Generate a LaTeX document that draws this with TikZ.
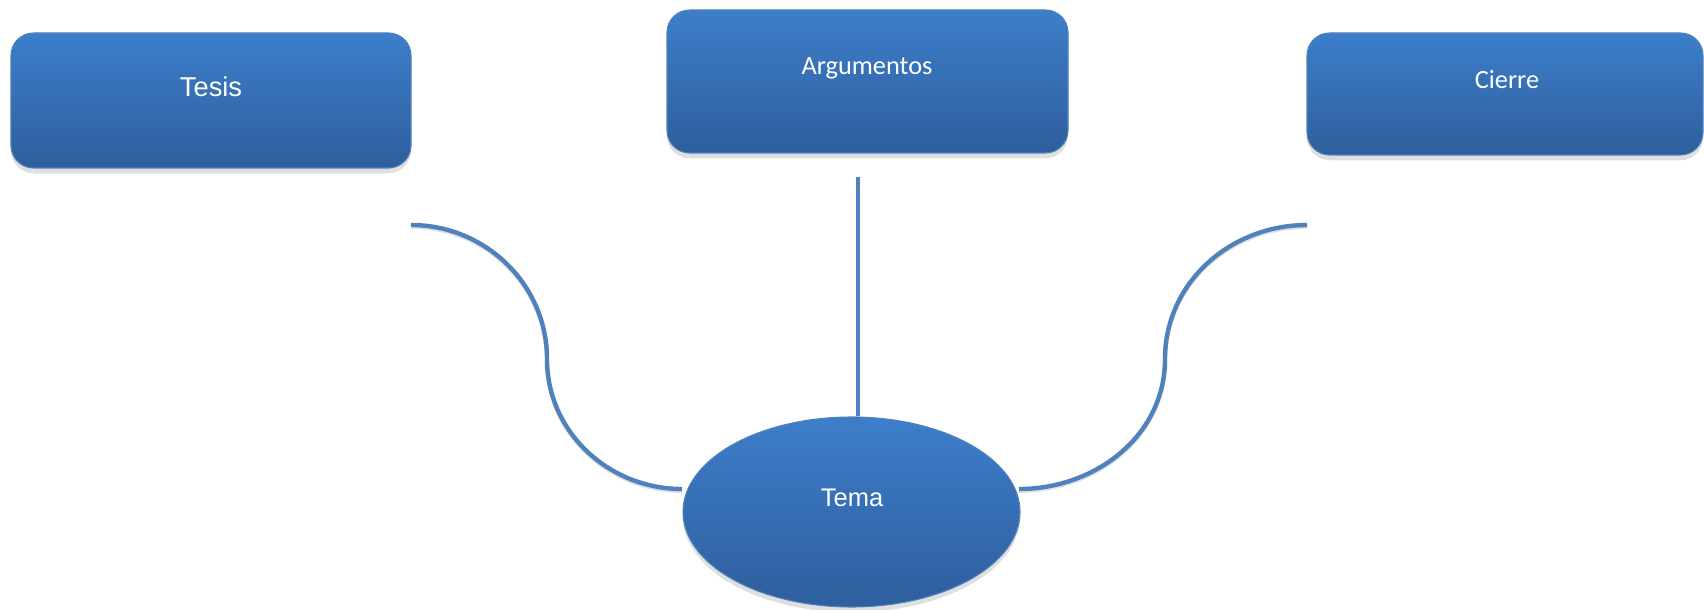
\documentclass[tikz,border=0pt]{standalone}
\usepackage{fontspec}
\usepackage{tikz}
\usetikzlibrary{positioning, shapes, shadows, calc}
\newfontfamily\arialfont{Liberation Sans}
\newfontfamily\calibrifont{Carlito}
\definecolor{Box-top}{RGB}{61,126,202}
\definecolor{Box-bot}{RGB}{46,94,157}
\definecolor{Box-line}{RGB}{79,129,189}

\begin{document}
\begin{tikzpicture}[x=0.02cm, y=0.02cm]
      \tikzset{ box/.style ={draw=Box-line, line width=0.6pt, rounded corners=0.45cm, top color=Box-top, bottom color=Box-bot, drop shadow={opacity=0.25, shadow xshift=0pt, shadow yshift=-3pt}} }
      \tikzset{ oval/.style={draw=Box-line, line width=0.6pt, ellipse, top color=Box-top, bottom color=Box-bot, drop shadow={opacity=0.25, shadow xshift=0pt, shadow yshift=-3pt}} }
      \tikzset{ ttxt/.style={text=white, font=\arialfont\fontsize{15.5}{18}\selectfont} }
      \tikzset{ ctxt/.style={text=white, font=\calibrifont\fontsize{15}{18}\selectfont} }
      \tikzset{ link/.style={draw=Box-line, line width=2.5pt, preaction={draw=black, opacity=0.12, line width=2.5pt, transform canvas={yshift=-1pt}}} }

      \node[box, minimum width=0.02*400cm, minimum height=0.02*135cm] (b_tesis) at ( 211.0, 508.5) {};
      \node[box, minimum width=0.02*401cm, minimum height=0.02*143cm] (b_arg)   at ( 867.5, 527.5) {};
      \node[box, minimum width=0.02*396cm, minimum height=0.02*122cm] (b_cierre) at (1505.0, 515.0) {};

      \node[ttxt] (t_tesis)  at ( 211, 522) {Tesis};
      \node[ctxt] (t_arg)    at ( 867, 541) {Argumentos};
      \node[ctxt] (t_cierre) at (1507, 529) {Cierre};

      \node[oval, minimum width=0.02*337cm, minimum height=0.02*190cm] (b_tema) at ( 851.5, 97.0) {};
      \node[ttxt, font=\arialfont\fontsize{14.5}{17}\selectfont] (t_tema) at ( 852, 111) {Tema};

      % free ends of the connectors
      \coordinate (c_left)  at ( 411, 384);
      \coordinate (m_left)  at ( 547, 250);
      \coordinate (e_left)  at ( 682, 120);
      \coordinate (c_right) at (1307, 384);
      \coordinate (m_right) at (1165, 250);
      \coordinate (e_right) at (1019, 120);
      \coordinate (c_top)   at ( 858, 432);

      \draw[link] (c_top) -- (c_top |- b_tema.north);
      \draw[link] (c_left)  to[out=0,in=90]   (m_left)  to[out=-90,in=180] (e_left);
      \draw[link] (c_right) to[out=180,in=90] (m_right) to[out=-90,in=0]   (e_right);

      \pgfresetboundingbox
      \useasboundingbox (0,0) rectangle (1704,609);
    \end{tikzpicture}
\end{document}
